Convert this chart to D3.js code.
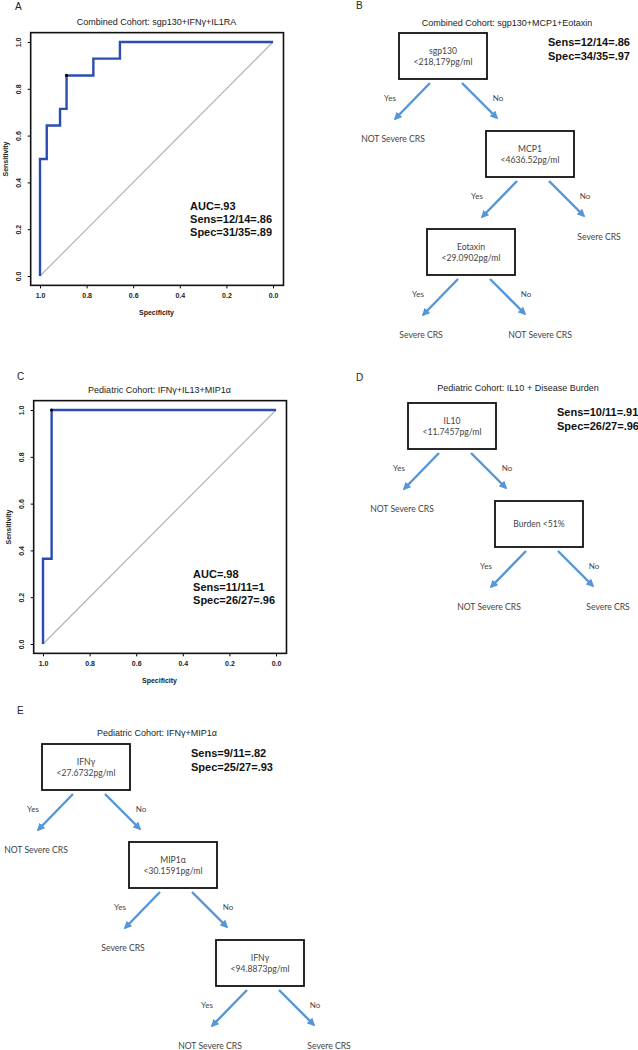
<!DOCTYPE html>
<html>
<head>
<meta charset="utf-8">
<script src="https://cdn.jsdelivr.net/npm/d3@7"></script>
<style>
  body { margin: 0; background: #fff; }
  svg { display: block; }
</style>
</head>
<body>
<div id="chart"></div>
<script>
// ROC A: combined cohort, sgp130+IFNg+IL1RA
const rocASpec = [1, 1, 0.971, 0.914, 0.886, 0.771, 0.657, 0];
const rocASens = [0, 0.5, 0.643, 0.714, 0.857, 0.929, 1, 1];
const rocABest = [0.886, 0.857];
const rocAStats = ["AUC=.93", "Sens=12/14=.86", "Spec=31/35=.89"];

// ROC C: pediatric cohort, IFNg+IL13+MIP1a
const rocCSpec = [1, 1, 0.963, 0];
const rocCSens = [0, 0.364, 1, 1];
const rocCBest = [0.963, 1];
const rocCStats = ["AUC=.98", "Sens=11/11=1", "Spec=26/27=.96"];

const axisTicks = [0, 0.2, 0.4, 0.6, 0.8, 1.0];

// decision trees
const treeBNodes = [
  { id: "sgp130", parent: null, branch: null, text: ["sgp130", "<218,179pg/ml"] },
  { id: "sgp130Yes", parent: "sgp130", branch: "Yes", text: ["NOT Severe CRS"] },
  { id: "mcp1", parent: "sgp130", branch: "No", text: ["MCP1", "<4636.52pg/ml"] },
  { id: "eotaxin", parent: "mcp1", branch: "Yes", text: ["Eotaxin", "<29.0902pg/ml"] },
  { id: "mcp1No", parent: "mcp1", branch: "No", text: ["Severe CRS"] },
  { id: "eotaxinYes", parent: "eotaxin", branch: "Yes", text: ["Severe CRS"] },
  { id: "eotaxinNo", parent: "eotaxin", branch: "No", text: ["NOT Severe CRS"] }
];
const treeBStats = ["Sens=12/14=.86", "Spec=34/35=.97"];

const treeDNodes = [
  { id: "il10", parent: null, branch: null, text: ["IL10", "<11.7457pg/ml"] },
  { id: "il10Yes", parent: "il10", branch: "Yes", text: ["NOT Severe CRS"] },
  { id: "burden", parent: "il10", branch: "No", text: ["Burden <51%"] },
  { id: "burdenYes", parent: "burden", branch: "Yes", text: ["NOT Severe CRS"] },
  { id: "burdenNo", parent: "burden", branch: "No", text: ["Severe CRS"] }
];
const treeDStats = ["Sens=10/11=.91", "Spec=26/27=.96"];

const treeENodes = [
  { id: "ifng1", parent: null, branch: null, text: ["IFNγ", "<27.6732pg/ml"] },
  { id: "ifng1Yes", parent: "ifng1", branch: "Yes", text: ["NOT Severe CRS"] },
  { id: "mip1a", parent: "ifng1", branch: "No", text: ["MIP1α", "<30.1591pg/ml"] },
  { id: "mip1aYes", parent: "mip1a", branch: "Yes", text: ["Severe CRS"] },
  { id: "ifng2", parent: "mip1a", branch: "No", text: ["IFNγ", "<94.8873pg/ml"] },
  { id: "ifng2Yes", parent: "ifng2", branch: "Yes", text: ["NOT Severe CRS"] },
  { id: "ifng2No", parent: "ifng2", branch: "No", text: ["Severe CRS"] }
];
const treeEStats = ["Sens=9/11=.82", "Spec=25/27=.93"];

const width = 638, height = 1050;
const sansFont = "Arial, 'Liberation Sans', Helvetica, sans-serif";
const treeFont = "Lato, 'Open Sans', sans-serif";
const arrowColor = "#5596d6";

const svg = d3.select("#chart")
  .append("svg")
  .attr("width", width)
  .attr("height", height)
  .style("background-color", "#FFFFFF");

svg.append("defs")
  .append("marker")
  .attr("id", "arrowhead")
  .attr("markerUnits", "userSpaceOnUse")
  .attr("viewBox", "0 0 10 10")
  .attr("refX", 8)
  .attr("refY", 5)
  .attr("markerWidth", 8)
  .attr("markerHeight", 8)
  .attr("orient", "auto")
  .append("path")
  .attr("d", "M0,0 L10,5 L0,10 Z")
  .attr("fill", arrowColor);

function panelLetter(letter, x, y) {
  svg.append("text")
    .attr("x", x)
    .attr("y", y)
    .text(letter)
    .attr("fill", "#222")
    .style("font-family", sansFont)
    .style("font-size", "10px");
}

function drawRoc(cfg) {
  const x = d3.scaleLinear().domain([1, 0]).range([cfg.left, cfg.left + 233]);
  const y = d3.scaleLinear().domain([0, 1]).range([cfg.top + 234, cfg.top]);
  const g = svg.append("g");

  const boxL = x(1.04), boxR = x(-0.045), boxT = y(1.04), boxB = y(-0.04);

  panelLetter(cfg.letter, cfg.letterX, cfg.letterY);

  g.append("text")
    .attr("x", x(0.5))
    .attr("y", boxT - 8)
    .attr("text-anchor", "middle")
    .text(cfg.title)
    .attr("fill", "#222")
    .style("font-family", sansFont)
    .style("font-size", "9px");

  // diagonal reference
  g.append("line")
    .attr("x1", x(1)).attr("y1", y(0))
    .attr("x2", x(0)).attr("y2", y(1))
    .attr("stroke", "#b4b4b4")
    .attr("stroke-width", 1.2);

  const pts = cfg.spec.map((s, i) => [s, cfg.sens[i]]);
  const line = d3.line()
    .x(d => x(d[0]))
    .y(d => y(d[1]))
    .curve(d3.curveStepAfter);

  g.append("path")
    .datum(pts)
    .attr("d", line)
    .attr("fill", "none")
    .attr("stroke", "#2b4db3")
    .attr("stroke-width", 2.4);

  g.append("circle")
    .attr("cx", x(cfg.best[0]))
    .attr("cy", y(cfg.best[1]))
    .attr("r", 1.6)
    .attr("fill", "#000");

  const xAxis = g.append("g")
    .attr("transform", `translate(0,${boxB})`)
    .call(d3.axisBottom(x).tickValues(axisTicks).tickFormat(d3.format(".1f")).tickSize(3).tickSizeOuter(0).tickPadding(5));
  xAxis.select(".domain").remove();
  xAxis.selectAll("text")
    .attr("fill", "#222")
    .style("font-family", sansFont)
    .style("font-size", "7px")
    .style("font-weight", "bold");

  const yAxis = g.append("g")
    .attr("transform", `translate(${boxL},0)`)
    .call(d3.axisLeft(y).tickValues(axisTicks).tickFormat(d3.format(".1f")).tickSize(3).tickSizeOuter(0));
  yAxis.select(".domain").remove();
  yAxis.selectAll("text")
    .attr("transform", "rotate(-90)")
    .attr("x", 0)
    .attr("y", -10)
    .attr("dy", 0)
    .attr("text-anchor", "middle")
    .attr("fill", "#222")
    .style("font-family", sansFont)
    .style("font-size", "7px")
    .style("font-weight", "bold");

  g.append("rect")
    .attr("x", boxL)
    .attr("y", boxT)
    .attr("width", boxR - boxL)
    .attr("height", boxB - boxT)
    .attr("fill", "none")
    .attr("stroke", "#111")
    .attr("stroke-width", 1.6);

  g.append("text")
    .attr("x", x(0.5))
    .attr("y", boxB + 30)
    .attr("text-anchor", "middle")
    .text("Specificity")
    .attr("fill", "#222")
    .style("font-family", sansFont)
    .style("font-size", "7px")
    .style("font-weight", "bold");

  g.append("text")
    .attr("transform", `translate(${boxL - 23},${y(0.5)}) rotate(-90)`)
    .attr("text-anchor", "middle")
    .text("Sensitivity")
    .attr("fill", "#222")
    .style("font-family", sansFont)
    .style("font-size", "7px")
    .style("font-weight", "bold");

  g.append("g")
    .selectAll("text")
    .data(cfg.stats)
    .enter()
    .append("text")
    .attr("x", x(0.356))
    .attr("y", (d, i) => y(0.28) + i * 13)
    .text(d => d)
    .attr("fill", "#111")
    .style("font-family", sansFont)
    .style("font-size", "11px")
    .style("font-weight", "bold");
}

function drawTree(cfg) {
  const boxW = 88, boxH = 46, stepY = 98;
  const root = d3.stratify()
    .id(d => d.id)
    .parentId(d => d.parent)(cfg.nodes);

  // place nodes: decision boxes step down/right (No) or down/left (Yes)
  root.each(n => {
    if (!n.parent) {
      n.cx = cfg.rootX + boxW / 2;
      n.top = cfg.rootY;
    } else if (n.children) {
      n.cx = n.parent.cx + (n.data.branch === "No" ? 87 : -59);
      n.top = n.parent.top + stepY;
    } else {
      n.cx = n.parent.cx + (n.data.branch === "No" ? 69 : -50);
      n.top = n.parent.top + boxH + 63;
    }
  });

  panelLetter(cfg.letter, cfg.letterX, cfg.letterY);

  svg.append("text")
    .attr("x", cfg.titleX)
    .attr("y", cfg.titleY)
    .attr("text-anchor", "middle")
    .text(cfg.title)
    .attr("fill", "#222")
    .style("font-family", sansFont)
    .style("font-size", "9px");

  const g = svg.append("g");
  const inner = root.descendants().filter(n => n.children);
  const leaves = root.leaves();

  const boxes = g.selectAll("g.box")
    .data(inner)
    .enter()
    .append("g")
    .attr("class", "box");

  boxes.append("rect")
    .attr("x", d => d.cx - boxW / 2)
    .attr("y", d => d.top)
    .attr("width", boxW)
    .attr("height", boxH)
    .attr("fill", "#fff")
    .attr("stroke", "#111")
    .attr("stroke-width", 1.8);

  boxes.each(function(d) {
    const lines = d.data.text;
    d3.select(this).selectAll("text")
      .data(lines)
      .enter()
      .append("text")
      .attr("x", d.cx)
      .attr("y", (t, i) => lines.length === 1 ? d.top + 26 : d.top + 21 + i * 11)
      .attr("text-anchor", "middle")
      .text(t => t)
      .attr("fill", "#444")
      .style("font-family", treeFont)
      .style("font-size", "8.6px");
  });

  const links = root.links();
  const bottom = n => n.top + boxH;

  g.selectAll("line.arrow")
    .data(links)
    .enter()
    .append("line")
    .attr("class", "arrow")
    .attr("x1", d => d.source.cx + (d.target.data.branch === "Yes" ? -13 : 19))
    .attr("y1", d => bottom(d.source) + 4)
    .attr("x2", d => d.source.cx + (d.target.data.branch === "Yes" ? -48 : 54))
    .attr("y2", d => bottom(d.source) + (d.target.data.branch === "Yes" ? 40 : 39))
    .attr("stroke", arrowColor)
    .attr("stroke-width", 2.4)
    .attr("marker-end", "url(#arrowhead)");

  g.selectAll("text.branch")
    .data(links)
    .enter()
    .append("text")
    .attr("class", "branch")
    .attr("x", d => d.source.cx + (d.target.data.branch === "Yes" ? -53 : 55))
    .attr("y", d => bottom(d.source) + 22)
    .attr("text-anchor", "middle")
    .text(d => d.target.data.branch)
    .attr("fill", "#444")
    .style("font-family", treeFont)
    .style("font-size", "8px");

  g.selectAll("text.leaf")
    .data(leaves)
    .enter()
    .append("text")
    .attr("class", "leaf")
    .attr("x", d => d.cx)
    .attr("y", d => d.top)
    .attr("text-anchor", "middle")
    .text(d => d.data.text[0])
    .attr("fill", "#444")
    .style("font-family", treeFont)
    .style("font-size", "8.6px");

  g.selectAll("text.stats")
    .data(cfg.stats)
    .enter()
    .append("text")
    .attr("class", "stats")
    .attr("x", cfg.rootX + boxW + 61)
    .attr("y", (d, i) => cfg.rootY + 13 + i * 13.5)
    .text(d => d)
    .attr("fill", "#111")
    .style("font-family", sansFont)
    .style("font-size", "11px")
    .style("font-weight", "bold");
}

drawRoc({
  letter: "A", letterX: 15, letterY: 10,
  title: "Combined Cohort: sgp130+IFNγ+IL1RA",
  left: 40, top: 42,
  spec: rocASpec, sens: rocASens, best: rocABest, stats: rocAStats
});

drawRoc({
  letter: "C", letterX: 17, letterY: 380,
  title: "Pediatric Cohort: IFNγ+IL13+MIP1α",
  left: 43, top: 410,
  spec: rocCSpec, sens: rocCSens, best: rocCBest, stats: rocCStats
});

drawTree({
  letter: "B", letterX: 356, letterY: 9,
  title: "Combined Cohort: sgp130+MCP1+Eotaxin", titleX: 507, titleY: 26,
  rootX: 399, rootY: 33,
  nodes: treeBNodes, stats: treeBStats
});

drawTree({
  letter: "D", letterX: 356, letterY: 381,
  title: "Pediatric Cohort: IL10 + Disease Burden", titleX: 518, titleY: 391,
  rootX: 408, rootY: 403,
  nodes: treeDNodes, stats: treeDStats
});

drawTree({
  letter: "E", letterX: 17, letterY: 714,
  title: "Pediatric Cohort: IFNγ+MIP1α", titleX: 157, titleY: 736,
  rootX: 42, rootY: 744,
  nodes: treeENodes, stats: treeEStats
});
</script>
</body>
</html>
